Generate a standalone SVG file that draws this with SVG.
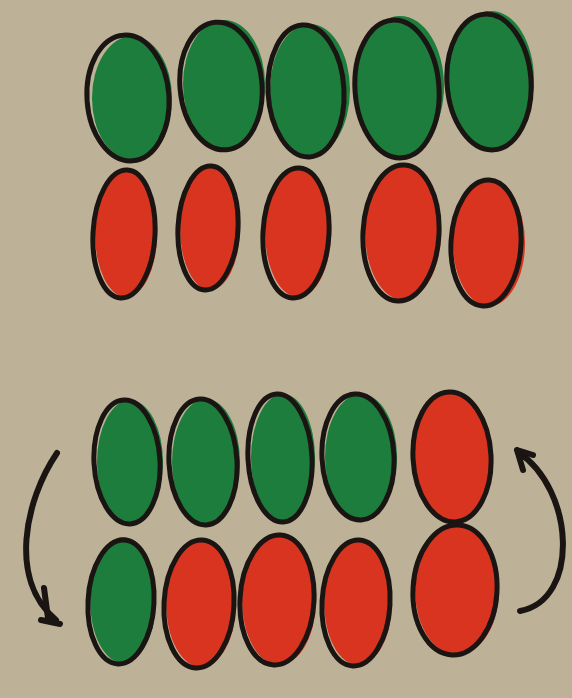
<svg xmlns="http://www.w3.org/2000/svg" width="572" height="698" viewBox="0 0 572 698">
<style>
.g{fill:#1c7d3c}
.r{fill:#d9341f}
.o{fill:none;stroke:#1a1512;stroke-width:5}
.a{fill:none;stroke:#1a1512;stroke-width:6;stroke-linecap:round;stroke-linejoin:round}
</style>
<rect width="572" height="698" fill="#bdb298"/>
<g id="row1">
<g id="g1"><ellipse class="g" cx="132" cy="98" rx="40" ry="62"/><ellipse class="o" cx="128" cy="98" rx="41" ry="63" transform="rotate(-4 128 98)"/></g>
<g id="g2"><ellipse class="g" cx="224" cy="84" rx="41" ry="64"/><ellipse class="o" cx="221" cy="86" rx="41" ry="64" transform="rotate(-5 221 86)"/></g>
<g id="g3"><ellipse class="g" cx="310" cy="90" rx="40" ry="66"/><ellipse class="o" cx="306" cy="91" rx="38" ry="66" transform="rotate(-3 306 91)"/></g>
<g id="g4"><ellipse class="g" cx="400" cy="86" rx="44" ry="70"/><ellipse class="o" cx="397" cy="89" rx="42" ry="69" transform="rotate(-4 397 89)"/></g>
<g id="g5"><ellipse class="g" cx="491" cy="80" rx="43" ry="69"/><ellipse class="o" cx="489" cy="82" rx="42" ry="68" transform="rotate(-4 489 82)"/></g>
</g>
<g id="row2">
<g id="r1"><ellipse class="r" cx="126" cy="234" rx="31" ry="63"/><ellipse class="o" cx="124" cy="234" rx="31" ry="64" transform="rotate(3 124 234)"/></g>
<g id="r2"><ellipse class="r" cx="210" cy="228" rx="30" ry="62"/><ellipse class="o" cx="208" cy="228" rx="30" ry="62" transform="rotate(3 208 228)"/></g>
<g id="r3"><ellipse class="r" cx="298" cy="232" rx="33" ry="65"/><ellipse class="o" cx="296" cy="233" rx="33" ry="65" transform="rotate(3 296 233)"/></g>
<g id="r4"><ellipse class="r" cx="403" cy="232" rx="38" ry="68"/><ellipse class="o" cx="401" cy="233" rx="38" ry="68" transform="rotate(3 401 233)"/></g>
<g id="r5"><ellipse class="r" cx="489" cy="243" rx="36" ry="63"/><ellipse class="o" cx="486" cy="243" rx="35" ry="63" transform="rotate(3 486 243)"/></g>
</g>
<g id="row3">
<g id="g6"><ellipse class="g" cx="130" cy="462" rx="33" ry="62"/><ellipse class="o" cx="127" cy="462" rx="33" ry="62" transform="rotate(-3 127 462)"/></g>
<g id="g7"><ellipse class="g" cx="206" cy="462" rx="34" ry="63"/><ellipse class="o" cx="203" cy="462" rx="34" ry="63" transform="rotate(-3 203 462)"/></g>
<g id="g8"><ellipse class="g" cx="283" cy="458" rx="32" ry="64"/><ellipse class="o" cx="280" cy="458" rx="32" ry="64" transform="rotate(-3 280 458)"/></g>
<g id="g9"><ellipse class="g" cx="361" cy="457" rx="36" ry="63"/><ellipse class="o" cx="358" cy="457" rx="36" ry="63" transform="rotate(-3 358 457)"/></g>
<g id="r6"><ellipse class="r" cx="452" cy="457" rx="40" ry="66"/><ellipse class="o" cx="452" cy="457" rx="39" ry="65" transform="rotate(-3 452 457)"/></g>
</g>
<g id="row4">
<g id="g10"><ellipse class="g" cx="123" cy="600" rx="33" ry="63"/><ellipse class="o" cx="121" cy="602" rx="33" ry="62" transform="rotate(3 121 602)"/></g>
<g id="r7"><ellipse class="r" cx="201" cy="603" rx="35" ry="64"/><ellipse class="o" cx="199" cy="604" rx="35" ry="64" transform="rotate(3 199 604)"/></g>
<g id="r8"><ellipse class="r" cx="279" cy="600" rx="37" ry="65"/><ellipse class="o" cx="277" cy="600" rx="37" ry="65" transform="rotate(3 277 600)"/></g>
<g id="r9"><ellipse class="r" cx="358" cy="602" rx="34" ry="63"/><ellipse class="o" cx="356" cy="603" rx="34" ry="63" transform="rotate(3 356 603)"/></g>
<g id="r10"><ellipse class="r" cx="457" cy="590" rx="42" ry="65"/><ellipse class="o" cx="455" cy="590" rx="42" ry="65" transform="rotate(3 455 590)"/></g>
</g>
<g id="connectors">
<path class="a" d="M57 453 C 25 500, 8 580, 56 620"/>
<path class="a" d="M44 588 L48 618 M41 620 L60 624"/>
<path class="a" d="M520 611 C 580 600, 575 490, 518 452"/>
<path class="a" d="M517 450 L533 455 M517 450 L523 470"/>
</g>
</svg>
